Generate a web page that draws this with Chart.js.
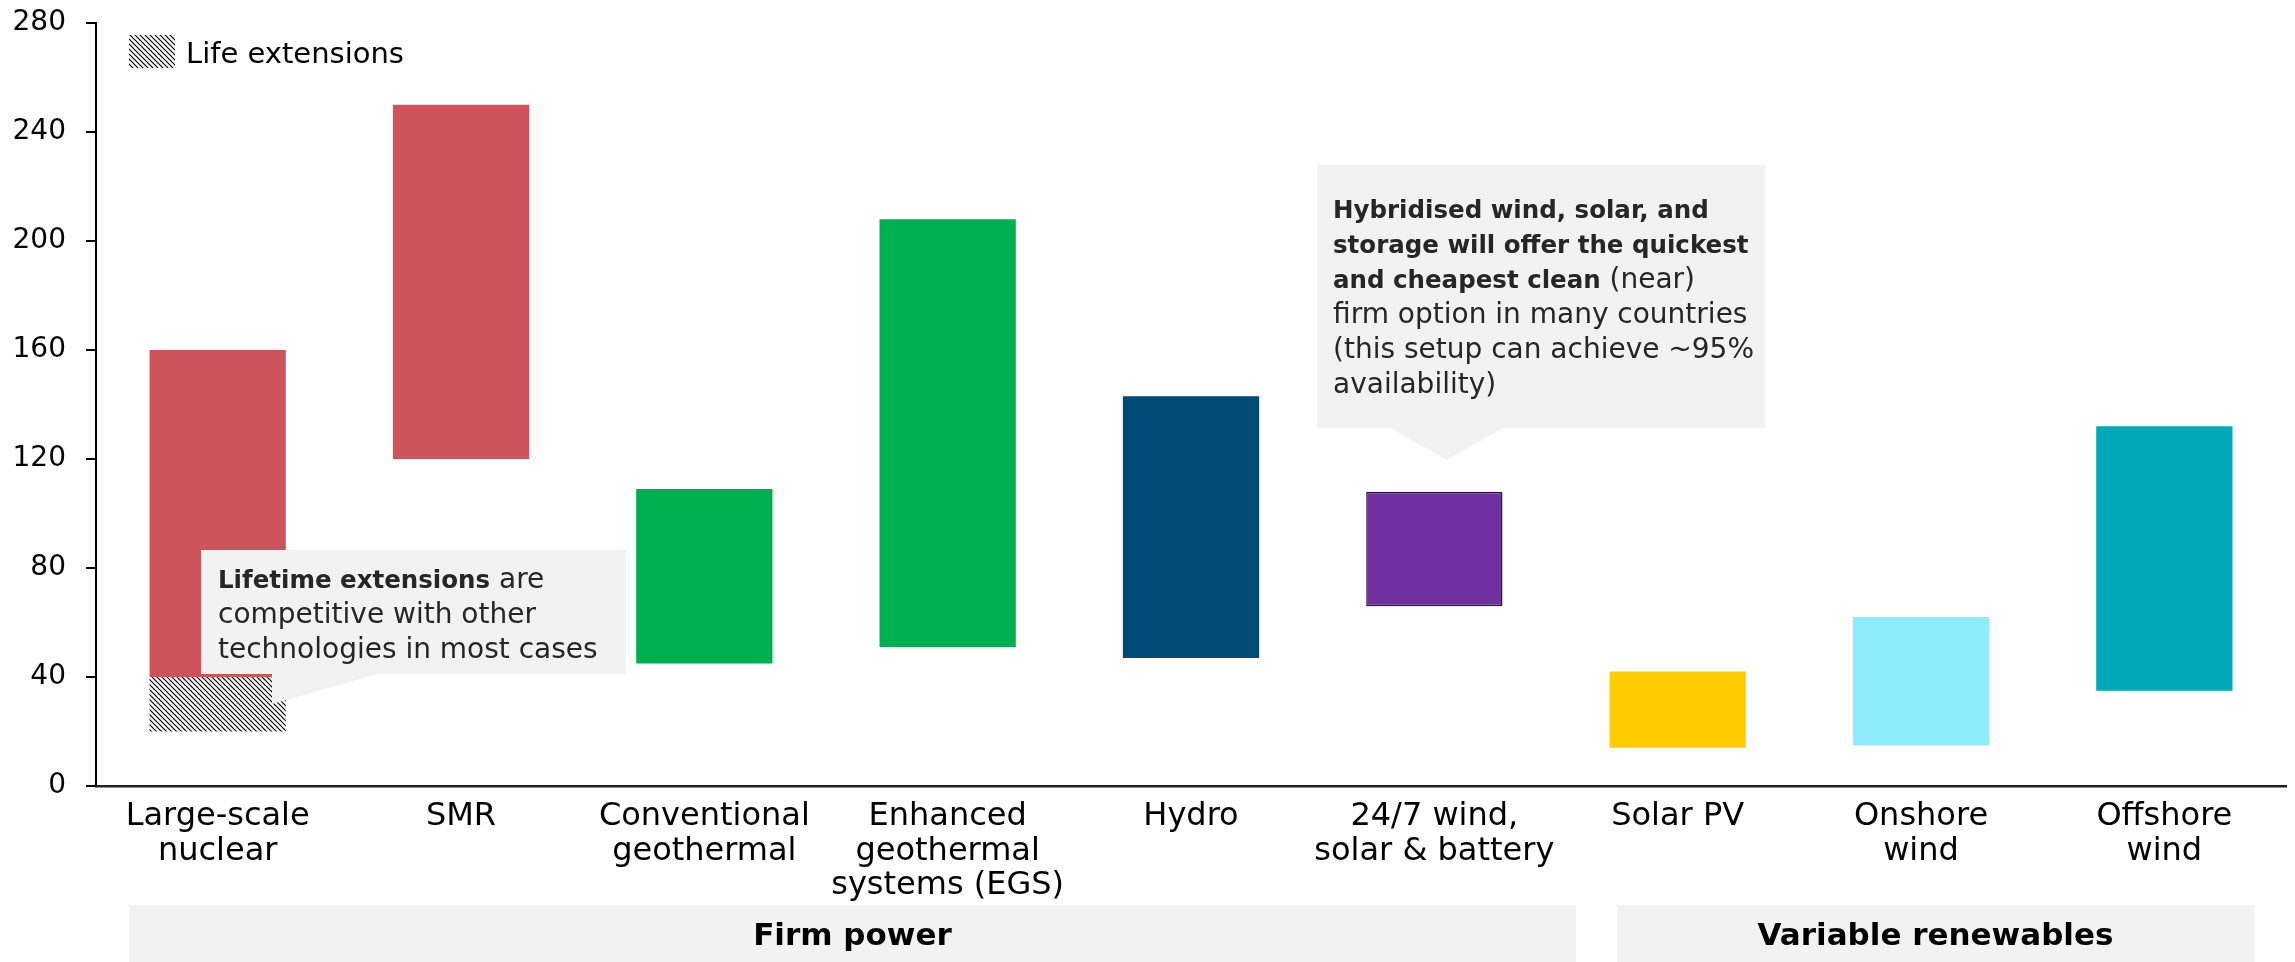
<!DOCTYPE html>
<html>
<head>
<meta charset="utf-8">
<script src="https://cdn.jsdelivr.net/npm/chart.js@4.4.1/dist/chart.umd.min.js"></script>
<style>
  html, body { margin: 0; padding: 0; background: #fff; }
  #wrap { width: 2295px; height: 962px; position: relative; }
</style>
</head>
<body>
<div id="wrap"><canvas id="costChart"></canvas></div>
<script>
// data
var categories = [['Large-scale', 'nuclear'], 'SMR', ['Conventional', 'geothermal'], ['Enhanced', 'geothermal', 'systems (EGS)'],
  'Hydro', ['24/7 wind,', 'solar & battery'], 'Solar PV', ['Onshore', 'wind'], ['Offshore', 'wind']];
var costLow  = [40, 120, 45, 51, 47, 66, 14, 15, 35];
var costHigh = [160, 250, 109, 208, 143, 108, 42, 62, 132];
var lifeExtLow  = [20, null, null, null, null, null, null, null, null];
var lifeExtHigh = [40, null, null, null, null, null, null, null, null];
var yTicks = [0, 40, 80, 120, 160, 200, 240, 280];
var groupNames = ['Firm power', 'Variable renewables'];

var barColours = ['#CD545B', '#CD545B', '#00AF50', '#00AF50', '#004A76', '#7030A0', '#FFCC00', '#8DEBFD', '#00A9B7'];
var barBorderW = [0, 0, 0, 0, 0, 1.5, 0, 0, 0];

var FONT = '"DejaVu Sans", sans-serif';
var TXT = '#262626';
var BOLD_PX = 24.5, NORM_PX = 28;

Chart.defaults.font.family = FONT;
Chart.defaults.color = '#000';

var canvas = document.getElementById('costChart');
var ctx0 = canvas.getContext('2d');

function makeHatch() {
  var t = document.createElement('canvas');
  t.width = 5; t.height = 5;
  var g = t.getContext('2d');
  g.fillStyle = '#fff';
  g.fillRect(0, 0, 5, 5);
  g.strokeStyle = '#000';
  g.lineWidth = 1.2;
  g.beginPath();
  g.moveTo(-1, -1); g.lineTo(6, 6);
  g.moveTo(-1, 4); g.lineTo(1, 6);
  g.moveTo(4, -1); g.lineTo(6, 1);
  g.stroke();
  return ctx0.createPattern(t, 'repeat');
}
var hatch = makeHatch();

function drawRuns(ctx, runs, x, y) {
  runs.forEach(function (r) {
    ctx.font = r.b ? 'bold ' + BOLD_PX + 'px ' + FONT : NORM_PX + 'px ' + FONT;
    ctx.fillText(r.t, x, y);
    x += ctx.measureText(r.t).width;
  });
}

function drawCallout(ctx, box, wedge, lines, tx, ty, lh) {
  ctx.save();
  ctx.fillStyle = '#F2F2F2';
  ctx.fillRect(box[0], box[1], box[2] - box[0], box[3] - box[1]);
  ctx.beginPath();
  ctx.moveTo(wedge[0][0], wedge[0][1]);
  for (var i = 1; i < wedge.length; i++) ctx.lineTo(wedge[i][0], wedge[i][1]);
  ctx.closePath();
  ctx.fill();
  ctx.fillStyle = TXT;
  ctx.textAlign = 'left';
  ctx.textBaseline = 'alphabetic';
  lines.forEach(function (runs, k) { drawRuns(ctx, runs, tx, ty + k * lh); });
  ctx.restore();
}

var extras = {
  id: 'extras',
  afterDatasetsDraw: function (chart) {
    var ctx = chart.ctx;
    // legend
    ctx.save();
    ctx.fillStyle = hatch;
    ctx.fillRect(129, 35, 46, 33);
    ctx.fillStyle = '#000';
    ctx.font = '29px ' + FONT;
    ctx.textBaseline = 'alphabetic';
    ctx.fillText('Life extensions', 186, 63);
    ctx.restore();

    drawCallout(ctx, [201, 550, 626, 674], [[272, 674], [378, 674], [272, 704]],
      [[{ t: 'Lifetime extensions', b: true }, { t: ' are' }],
       [{ t: 'competitive with other' }],
       [{ t: 'technologies in most cases' }]],
      218, 588, 35);

    drawCallout(ctx, [1317, 165, 1765, 428], [[1390, 428], [1503, 428], [1447, 460]],
      [[{ t: 'Hybridised wind, solar, and', b: true }],
       [{ t: 'storage will offer the quickest', b: true }],
       [{ t: 'and cheapest clean', b: true }, { t: ' (near)' }],
       [{ t: 'firm option in many countries' }],
       [{ t: '(this setup can achieve ~95%' }],
       [{ t: 'availability)' }]],
      1333, 218, 35);
  },
  afterDraw: function (chart) {
    var ctx = chart.ctx;
    var bands = [[129, 1576], [1617, 2254]];
    ctx.save();
    bands.forEach(function (b, i) {
      ctx.fillStyle = '#F2F2F2';
      ctx.fillRect(b[0], 905, b[1] - b[0], 57);
      ctx.fillStyle = '#000';
      ctx.font = 'bold 31px ' + FONT;
      ctx.textAlign = 'center';
      ctx.textBaseline = 'middle';
      ctx.fillText(groupNames[i], (b[0] + b[1]) / 2, 937);
    });
    ctx.restore();
  }
};

new Chart(canvas, {
  type: 'bar',
  data: {
    labels: categories,
    datasets: [{
      data: costLow.map(function (v, i) { return [v, costHigh[i]]; }),
      backgroundColor: barColours,
      borderColor: '#2b1040',
      borderWidth: barBorderW,
      borderSkipped: false,
      grouped: false,
      barPercentage: 0.56,
      categoryPercentage: 1
    }, {
      data: lifeExtLow.map(function (v, i) { return v == null ? null : [v, lifeExtHigh[i]]; }),
      backgroundColor: hatch,
      borderWidth: 0,
      grouped: false,
      barPercentage: 0.56,
      categoryPercentage: 1
    }]
  },
  options: {
    responsive: true,
    maintainAspectRatio: false,
    devicePixelRatio: 1,
    animation: false,
    layout: { padding: { top: 23, right: 9, left: 0, bottom: 0 } },
    plugins: { legend: { display: false }, tooltip: { enabled: false } },
    scales: {
      x: {
        grid: { display: false },
        border: { display: true, color: '#222', width: 2.5 },
        ticks: { font: { size: 32, lineHeight: 1.07 }, color: '#000', padding: 6, maxRotation: 0, autoSkip: false },
        afterFit: function (s) { s.height = 176; }
      },
      y: {
        min: 0, max: 280,
        afterBuildTicks: function (s) { s.ticks = yTicks.map(function (v) { return { value: v }; }); },
        grid: { display: true, drawOnChartArea: false, drawTicks: true, tickLength: 10, color: '#000', lineWidth: 2 },
        border: { display: true, color: '#000', width: 2 },
        ticks: { font: { size: 28 }, color: '#000', padding: 20 },
        afterFit: function (s) { s.width = 96; s.paddingTop = 0; s.paddingBottom = 0; }
      }
    }
  },
  plugins: [extras]
});
</script>
</body>
</html>
